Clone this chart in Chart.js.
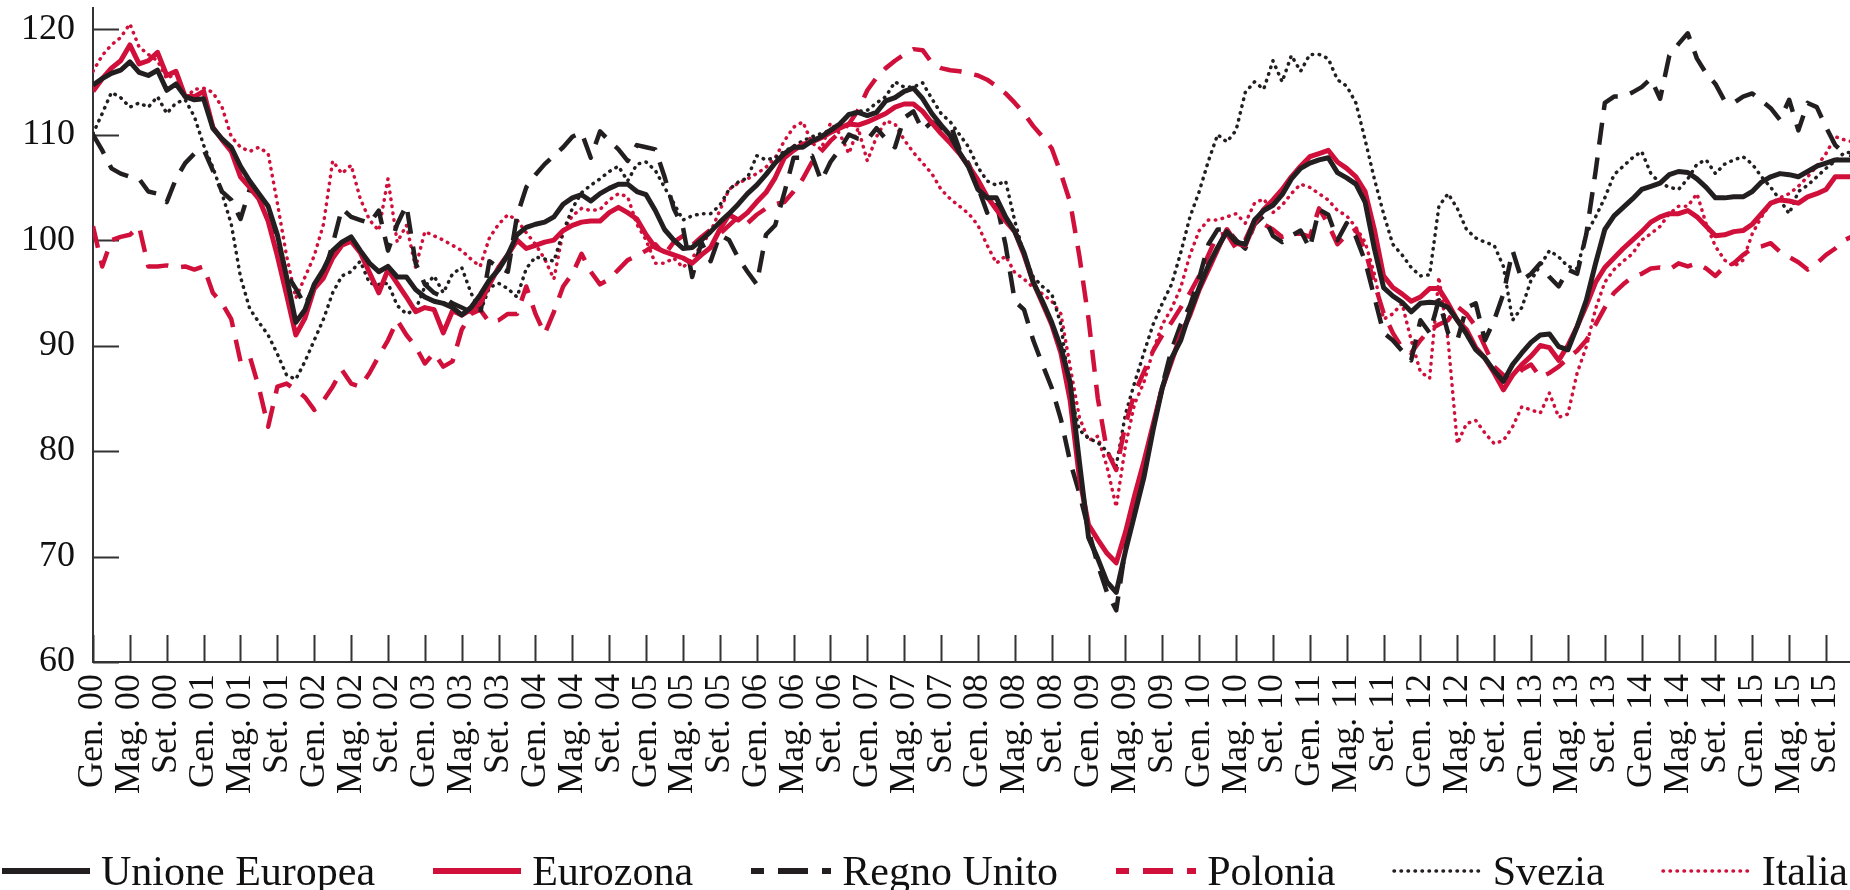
<!DOCTYPE html>
<html lang="it">
<head>
<meta charset="utf-8">
<title>Clima di fiducia 2000-2015</title>
<script src="https://cdn.jsdelivr.net/npm/chart.js@4.4.1/dist/chart.umd.min.js"></script>
<style>
  html, body { margin: 0; padding: 0; background: #fff; }
  #chartBox { position: relative; width: 1850px; height: 890px; }
  #legend {
    position: absolute; left: 0; top: 846px; width: 1848px; height: 50px;
    display: flex; justify-content: space-between; align-items: center;
    font-family: 'Liberation Serif', 'Times New Roman', serif; font-size: 42px; color: #111;
  }
  #legend .item { display: flex; align-items: center; white-space: nowrap; }
  #legend svg { margin-right: 9px; }
</style>
</head>
<body>
<div id="chartBox">
  <canvas id="myChart" width="1850" height="890"></canvas>
  <div id="legend"></div>
</div>
<script>
// chart data: one value per month, Gen. 2000 -> Dic. 2015
const unioneEuropea = [
  114.7, 115.3, 115.8, 116.1, 116.9, 115.9, 115.6, 116.1, 114.2, 114.8, 113.6, 113.3,
  113.4, 110.6, 109.6, 108.8, 107.0, 105.6, 104.4, 103.2, 100.5, 96.5, 92.2, 93.4,
  95.8, 97.2, 99.0, 99.8, 100.3, 99.0, 97.8, 97.0, 97.5, 96.5, 96.5, 95.3,
  94.6, 94.2, 94.0, 93.6, 92.9, 93.6, 94.8, 96.2, 97.2, 98.6, 100.5, 101.2,
  101.5, 101.7, 102.2, 103.4, 104.0, 104.3, 103.7, 104.4, 104.9, 105.3, 105.3, 104.6,
  104.3, 102.8, 101.0, 100.0, 99.2, 99.3, 100.0, 100.8, 101.7, 102.5, 103.4, 104.4,
  105.2, 106.2, 107.3, 108.2, 108.8, 108.8, 109.4, 109.8, 110.4, 111.0, 111.9, 112.1,
  111.8, 112.1, 113.2, 113.5, 114.1, 114.4, 113.4, 112.0, 110.9, 109.9, 108.3, 106.9,
  104.8, 104.0, 104.0, 102.2, 100.8, 98.8, 96.0, 94.2, 92.2, 89.8, 86.5, 79.0,
  71.8, 69.8, 67.6, 66.6, 70.5, 74.0, 77.5, 82.0, 86.0, 88.8, 90.5, 93.2,
  95.5, 97.6, 99.3, 100.8, 99.8, 99.6, 101.9, 102.8, 103.3, 104.3, 105.8, 106.8,
  107.3, 107.6, 107.8, 106.4, 105.9, 105.3, 103.6, 99.2, 95.5, 94.7, 94.1, 93.2,
  94.0, 94.1, 94.0, 93.6, 92.4, 91.1, 89.6, 88.8, 87.6, 86.6, 88.2, 89.3,
  90.3, 91.0, 91.1, 89.9, 89.6, 91.8, 94.3, 97.8, 101.0, 102.3, 103.1, 103.9,
  104.8, 105.1, 105.4, 106.2, 106.5, 106.4, 105.8, 105.0, 104.0, 104.0, 104.1, 104.1,
  104.6, 105.5, 106.0, 106.3, 106.2, 106.0, 106.5, 107.0, 107.3, 107.6, 107.6, 107.6
];

const eurozona = [
  114.1, 115.3, 116.3, 117.0, 118.5, 116.7, 117.0, 117.8, 115.6, 116.0, 113.6, 113.6,
  114.1, 110.7, 109.5, 108.4, 106.0, 105.0, 103.9, 101.8, 98.5, 94.8, 91.0, 92.6,
  95.4, 96.4, 98.3, 99.5, 99.9, 98.8, 96.9, 95.0, 97.2, 95.9, 94.6, 93.2,
  93.6, 93.4, 91.2, 93.3, 92.9, 93.4, 94.0, 95.8, 97.4, 98.6, 100.0, 99.2,
  99.5, 99.8, 100.0, 100.9, 101.4, 101.7, 101.8, 101.8, 102.6, 103.1, 102.6, 102.0,
  100.5, 99.3, 98.9, 98.6, 98.3, 97.8, 98.6, 99.3, 101.0, 102.4, 101.9, 102.6,
  103.6, 104.5, 105.9, 107.8, 108.5, 109.1, 109.3, 109.7, 110.2, 110.6, 111.0, 110.9,
  111.2, 111.6, 112.0, 112.6, 112.9, 112.9, 112.2, 111.1, 110.1, 109.2, 108.2, 107.0,
  105.7, 104.1, 102.9, 101.8, 100.8, 98.6, 96.0, 94.0, 92.0, 89.3, 84.8, 77.5,
  73.0, 71.6, 70.3, 69.4, 72.3, 75.8, 79.0, 82.5, 86.0, 88.5, 91.0, 92.9,
  95.3, 97.2, 99.1, 101.0, 99.7, 99.5, 101.6, 102.9, 103.8, 104.8, 106.0, 107.0,
  107.9, 108.2, 108.5, 107.4, 106.8, 106.0, 104.6, 101.0, 96.6, 95.5, 94.9, 94.2,
  94.6, 95.4, 95.4, 94.0, 92.4, 91.5, 89.8, 88.8, 87.4, 85.8, 87.2, 88.2,
  89.0, 90.0, 89.8, 88.6, 90.0, 91.8, 93.8, 96.0, 97.4, 98.3, 99.2, 100.0,
  100.8, 101.7, 102.2, 102.5, 102.5, 102.8, 102.2, 101.3, 100.4, 100.5, 100.8, 100.9,
  101.5, 102.5, 103.5, 103.8, 103.7, 103.5, 104.1, 104.4, 104.8, 106.0, 106.0, 106.0
];

const regnoUnito = [
  110.0, 108.5, 106.8, 106.3, 106.0, 105.8, 104.6, 104.4, 103.6, 105.8, 107.3, 108.2,
  108.6, 106.6, 104.6, 103.8, 102.0, 104.8, 104.2, 103.3, 99.8, 96.8, 95.4, 93.8,
  95.6, 96.6, 99.6, 103.0, 102.2, 101.9, 101.6, 102.8, 99.0, 101.5, 103.3, 97.8,
  95.8, 95.0, 94.6, 94.0, 93.6, 93.2, 93.0, 98.0, 97.4, 97.0, 102.3, 105.0,
  106.2, 107.2, 108.0, 108.8, 109.8, 110.2, 107.8, 110.3, 109.4, 108.6, 107.5, 109.0,
  108.8, 108.6, 106.0, 103.0, 101.2, 96.5, 99.8, 98.0, 100.5, 100.0, 98.3, 97.0,
  95.8, 100.5, 101.4, 104.5, 107.8, 107.8, 108.0, 105.6, 107.4, 108.6, 110.0, 109.6,
  109.5, 110.6, 109.6, 108.8, 111.6, 112.2, 110.4, 111.2, 110.6, 111.0, 108.6, 107.2,
  105.0, 102.6, 103.6, 99.5, 94.2, 93.4, 90.5, 88.2, 86.0, 83.0, 79.0, 76.0,
  72.5, 69.2, 66.6, 64.9, 70.8, 75.0, 78.8, 82.2, 86.2, 89.6, 92.0, 93.8,
  96.4, 99.6, 101.0, 101.0, 100.0, 99.2, 101.5, 102.3, 100.4, 99.8, 100.4, 100.9,
  99.2, 102.9, 102.4, 100.0, 101.6, 100.3, 98.0, 94.6, 91.2, 90.5, 89.5, 88.6,
  92.4, 91.2, 94.3, 91.2, 90.5, 93.6, 94.0, 90.5, 92.4, 94.9, 99.0, 96.2,
  96.8, 97.8, 96.5, 95.6, 97.2, 96.8, 100.6, 106.5, 113.0, 113.6, 113.6, 114.0,
  114.5, 115.3, 113.4, 117.5, 118.6, 119.6, 117.2, 115.8, 114.8, 113.2, 113.0, 113.6,
  113.9, 113.2, 112.5, 111.4, 113.3, 110.4, 113.0, 112.6, 110.7, 109.0, 108.2, 108.0
];

const polonia = [
  101.3, 97.5, 100.0, 100.3, 100.5, 101.3, 97.5, 97.5, 97.6, 97.4, 97.5, 97.2,
  97.5, 95.0, 94.0, 92.5, 88.5, 89.0, 86.0, 82.3, 86.1, 86.4, 85.8, 85.1,
  83.9, 84.8, 86.1, 87.7, 86.4, 86.1, 87.4, 89.0, 90.5, 92.4, 91.0, 89.9,
  88.3, 89.3, 88.0, 88.5, 91.5, 93.0, 93.4, 92.2, 92.4, 93.0, 93.0, 95.6,
  93.0, 91.1, 93.2, 95.6, 96.8, 98.7, 97.0, 95.8, 96.3, 97.2, 98.1, 98.5,
  99.0, 99.6, 98.6, 99.8, 100.4, 99.5, 100.3, 101.0, 100.6, 101.4, 102.2, 101.6,
  102.4, 103.0, 103.4, 103.6, 104.6, 105.8, 107.4, 108.4, 109.4, 110.2, 111.0, 112.3,
  114.2, 115.4, 116.3, 117.0, 117.6, 118.1, 118.0, 116.8, 116.3, 116.1, 116.0, 115.8,
  115.6, 115.2, 114.6, 113.9, 113.0, 112.0, 110.8, 109.8, 108.7, 106.3, 103.6, 98.5,
  92.5, 85.0, 80.0, 78.2, 82.5, 85.5, 87.5, 89.5, 91.0, 92.2, 93.6, 95.0,
  96.6, 98.6, 100.5, 100.6, 99.2, 100.0, 101.9, 101.5, 101.0, 100.3, 100.6, 100.6,
  100.3, 103.0, 101.5, 99.6, 100.5, 101.0, 99.0, 95.9, 93.1, 91.2, 89.8, 89.3,
  90.5, 91.5, 92.0, 92.4, 93.7, 93.0, 91.8, 89.9, 88.0, 87.2, 86.7, 87.7,
  88.2, 87.0, 87.4, 88.0, 88.8, 89.5, 90.5, 92.0, 93.6, 95.0, 95.8, 96.5,
  96.8, 97.3, 97.4, 97.2, 97.8, 97.5, 97.8, 97.3, 96.6, 97.5, 97.8, 98.6,
  99.2, 99.4, 99.7, 98.9, 98.4, 97.9, 97.2, 97.8, 98.6, 99.2, 100.0, 100.4
];

const svezia = [
  110.1, 112.0, 114.0, 113.5, 112.6, 113.0, 112.6, 113.6, 112.0, 113.0, 113.3, 111.7,
  109.0, 106.9, 104.4, 101.5, 96.5, 93.5, 92.2, 91.0, 89.2, 87.2, 86.8, 88.5,
  90.5, 92.5, 95.0, 96.6, 97.0, 98.0, 95.9, 95.8, 95.9, 93.8, 93.0, 93.4,
  95.6, 96.6, 95.0, 96.8, 97.4, 95.0, 93.2, 95.5, 95.9, 95.4, 94.6, 97.3,
  98.4, 98.2, 98.0, 100.8, 103.0, 104.5, 105.2, 105.8, 106.5, 107.0, 105.6, 107.2,
  107.4, 106.6, 105.0, 103.5, 101.9, 102.3, 102.5, 102.5, 103.3, 104.8, 105.5, 105.9,
  108.0, 107.6, 107.8, 108.4, 108.9, 109.4, 109.8, 110.1, 110.4, 110.9, 112.0, 112.2,
  112.3, 113.0, 113.6, 115.0, 114.5, 114.5, 114.9, 113.4, 112.0, 111.2, 110.0, 108.8,
  106.9, 105.6, 105.2, 105.6, 101.8, 98.6, 96.5, 95.6, 94.9, 92.0, 85.5, 82.0,
  81.2, 80.8, 80.0, 78.6, 83.5, 86.5, 89.3, 92.0, 94.0, 95.8, 98.8, 102.2,
  104.6, 107.5, 110.0, 109.3, 110.4, 114.0, 115.0, 114.3, 117.0, 115.0, 117.5, 116.0,
  117.6, 117.6, 117.2, 115.2, 114.6, 113.0, 109.5, 105.8, 102.5, 99.6, 98.6, 97.4,
  96.6, 96.7, 103.2, 104.4, 103.0, 101.0, 100.2, 99.8, 99.5, 97.5, 92.4, 93.6,
  96.2, 97.6, 99.0, 98.4, 97.5, 97.3, 100.6, 102.2, 104.0, 106.2, 107.0, 107.8,
  108.4, 106.3, 105.4, 105.0, 104.8, 105.8, 107.2, 107.6, 106.3, 107.2, 107.6, 107.9,
  107.2, 106.0, 105.0, 103.8, 102.5, 104.6, 105.2, 106.0, 106.8, 107.5, 108.3, 108.3
];

const italia = [
  116.0, 117.5, 118.5, 119.2, 120.5, 118.3, 117.6, 117.0, 115.3, 115.8, 113.4, 114.3,
  114.4, 114.0, 112.6, 109.8, 108.8, 108.4, 108.8, 108.2, 103.5, 98.5, 94.5, 96.5,
  98.5, 101.5, 107.5, 106.3, 107.1, 103.9, 101.9, 100.9, 105.8, 99.8, 101.4, 97.4,
  100.8, 100.4, 100.0, 99.5, 99.0, 98.2, 97.5, 100.2, 101.5, 102.4, 101.9, 100.7,
  99.6, 98.2, 96.3, 100.8, 102.3, 103.0, 102.8, 102.9, 103.8, 104.4, 104.1, 101.5,
  100.0, 97.8, 97.8, 98.3, 97.4, 98.3, 99.5, 100.8, 102.8, 104.8, 105.4, 105.8,
  106.3, 106.9, 107.8, 109.4, 110.7, 111.2, 109.2, 108.6, 111.1, 110.1, 108.2, 110.6,
  107.5, 109.8, 111.3, 111.0, 109.5, 108.3, 107.3, 106.3, 104.8, 103.9, 103.2, 102.5,
  101.4, 99.5, 97.8, 98.5, 96.9, 96.3, 95.5, 94.9, 94.2, 93.0, 88.0, 83.2,
  81.0, 81.4, 78.5, 74.7, 80.5, 84.5, 86.5, 89.5, 92.0, 93.5, 95.5, 98.6,
  100.9, 101.9, 101.9, 102.2, 102.5, 101.6, 103.5, 103.9, 102.6, 103.3, 104.4, 105.3,
  105.0, 104.4, 103.8, 102.8, 102.3, 101.2, 99.8, 96.8, 92.5, 93.0, 94.0, 90.5,
  87.5, 86.9, 96.5, 90.5, 80.7, 82.6, 82.9, 81.7, 80.7, 81.0, 82.3, 84.2,
  83.9, 83.6, 85.5, 83.2, 83.5, 87.4, 89.9, 93.5, 96.0, 97.2, 98.0, 98.7,
  100.0, 100.6, 101.3, 102.5, 103.2, 103.2, 104.4, 101.5, 99.4, 98.1, 97.5, 98.1,
  100.6, 102.2, 103.5, 104.0, 104.4, 105.1, 106.0, 107.0, 108.2, 109.8, 109.5, 109.3
];

// x tick labels, one every 4 months
const tickLabels = [
  "Gen. 00", "Mag. 00", "Set. 00", "Gen. 01", "Mag. 01", "Set. 01",
  "Gen. 02", "Mag. 02", "Set. 02", "Gen. 03", "Mag. 03", "Set. 03",
  "Gen. 04", "Mag. 04", "Set. 04", "Gen. 05", "Mag. 05", "Set. 05",
  "Gen. 06", "Mag. 06", "Set. 06", "Gen. 07", "Mag. 07", "Set. 07",
  "Gen. 08", "Mag. 08", "Set. 08", "Gen. 09", "Mag. 09", "Set. 09",
  "Gen. 10", "Mag. 10", "Set. 10", "Gen. 11", "Mag. 11", "Set. 11",
  "Gen. 12", "Mag. 12", "Set. 12", "Gen. 13", "Mag. 13", "Set. 13",
  "Gen. 14", "Mag. 14", "Set. 14", "Gen. 15", "Mag. 15", "Set. 15"
];
const yTicks = [60, 70, 80, 90, 100, 110, 120];

const FONT = "'Liberation Serif', 'Times New Roman', serif";
const BLACK = "#231f20";
const RED = "#d0103a";
const AXIS = "#333333";
const PLOT_BOTTOM = 662; // pixel row of the x axis

const DASHED = [22, 13];
const DOTTED = [0.5, 6.5];

// turn a monthly array into {x, y} points
function toPoints(values) {
  return values.map((v, i) => ({ x: i, y: v }));
}

function makeDataset(label, values, color, width, dash, cap) {
  return {
    label: label,
    data: toPoints(values),
    borderColor: color,
    backgroundColor: color,
    borderWidth: width,
    borderDash: dash,
    borderCapStyle: cap,
    borderJoinStyle: "round",
    pointRadius: 0,
    tension: 0,
    fill: false,
  };
}

// tick marks drawn inside the plot, as in the original
const innerTicks = {
  id: "innerTicks",
  beforeDatasetsDraw(chart) {
    const { ctx, chartArea, scales } = chart;
    ctx.save();
    ctx.strokeStyle = AXIS;
    ctx.lineWidth = 2;
    ctx.beginPath();
    scales.x.ticks.forEach((t) => {
      const px = Math.round(scales.x.getPixelForValue(t.value)) + 0.5;
      ctx.moveTo(px, chartArea.bottom);
      ctx.lineTo(px, chartArea.bottom - 27);
    });
    scales.y.ticks.forEach((t) => {
      const py = Math.round(scales.y.getPixelForValue(t.value)) + 0.5;
      ctx.moveTo(chartArea.left, py);
      ctx.lineTo(chartArea.left + 26, py);
    });
    ctx.stroke();
    ctx.restore();
  },
};

// Get the chart context
const chartContext = document.getElementById("myChart").getContext("2d");

// Create the chart
const chart = new Chart(chartContext, {
  type: "line",
  data: {
    datasets: [
      makeDataset("Unione Europea", unioneEuropea, BLACK, 5, [], "butt"),
      makeDataset("Eurozona", eurozona, RED, 5, [], "butt"),
      makeDataset("Regno Unito", regnoUnito, BLACK, 4.5, DASHED, "butt"),
      makeDataset("Polonia", polonia, RED, 4.5, DASHED, "butt"),
      makeDataset("Svezia", svezia, BLACK, 3.5, DOTTED, "round"),
      makeDataset("Italia", italia, RED, 3.5, DOTTED, "round"),
    ],
  },
  options: {
    responsive: false,
    animation: false,
    layout: { padding: { top: 8, right: 0, bottom: 0, left: 0 } },
    scales: {
      x: {
        type: "linear",
        min: 0,
        max: 190.6,
        afterBuildTicks: (scale) => {
          scale.ticks = tickLabels.map((t, i) => ({ value: i * 4 }));
        },
        afterFit: (scale) => {
          scale.height = scale.chart.height - PLOT_BOTTOM;
          scale.paddingLeft = 0;
          scale.paddingRight = 0;
        },
        ticks: {
          autoSkip: false,
          minRotation: 90,
          maxRotation: 90,
          padding: 12,
          color: "#111",
          font: { family: FONT, size: 36 },
          callback: (value, index) => tickLabels[index],
        },
        grid: { display: false, drawTicks: false },
        border: { display: true, color: AXIS, width: 2 },
      },
      y: {
        min: 60,
        max: 122,
        afterBuildTicks: (scale) => {
          scale.ticks = yTicks.map((v) => ({ value: v }));
        },
        afterFit: (scale) => {
          scale.width = 93;
          scale.paddingTop = 0;
          scale.paddingBottom = 0;
        },
        ticks: {
          padding: 18,
          color: "#111",
          font: { family: FONT, size: 36 },
        },
        grid: { display: false, drawTicks: false },
        border: { display: true, color: AXIS, width: 2 },
      },
    },
    plugins: {
      tooltip: { enabled: false },
      legend: { display: false },
    },
  },
  plugins: [innerTicks],
});

// Build the legend under the chart from the datasets
const legend = document.getElementById("legend");
chart.data.datasets.forEach((ds) => {
  const dashed = ds.borderDash.length > 0 && ds.borderDash[0] > 5;
  const dotted = ds.borderDash.length > 0 && !dashed;
  const width = dashed ? 84 : 92;
  const stroke = dotted ? ds.borderWidth : 6;
  let dash = "none";
  if (dashed) dash = "13 14 30 14 13";
  if (dotted) dash = ds.borderDash.join(" ");
  const item = document.createElement("span");
  item.className = "item";
  item.innerHTML =
    '<svg width="' + width + '" height="12">' +
    '<line x1="2" y1="6" x2="' + (width - 2) + '" y2="6" stroke="' + ds.borderColor +
    '" stroke-width="' + stroke + '" stroke-dasharray="' + dash +
    '" stroke-linecap="' + ds.borderCapStyle + '"/></svg>' +
    "<span>" + ds.label + "</span>";
  legend.appendChild(item);
});
</script>
</body>
</html>
